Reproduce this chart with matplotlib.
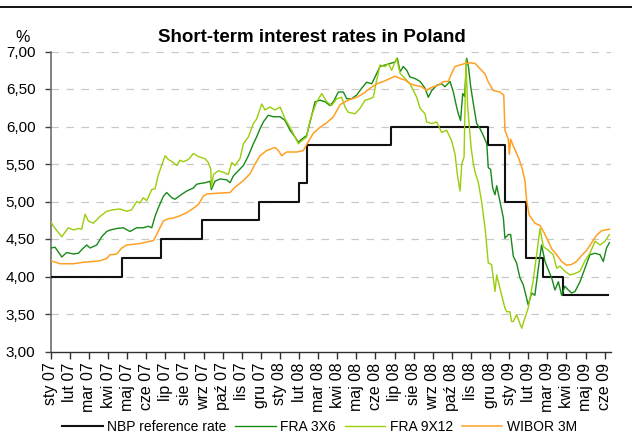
import matplotlib
matplotlib.use("Agg")
import matplotlib.pyplot as plt
from matplotlib.lines import Line2D
from matplotlib import font_manager

# ---------------- data (x = month index, 0 = Jan 2007) ----------------
month_labels = ["sty 07", "lut 07", "mar 07", "kwi 07", "maj 07", "cze 07",
                "lip 07", "sie 07", "wrz 07", "paź 07", "lis 07", "gru 07",
                "sty 08", "lut 08", "mar 08", "kwi 08", "maj 08", "cze 08",
                "lip 08", "sie 08", "wrz 08", "paź 08", "lis 08", "gru 08",
                "sty 09", "lut 09", "mar 09", "kwi 09", "maj 09", "cze 09"]

nbp_m = [0.00, 3.73, 5.80, 7.90, 10.90, 13.00, 13.43, 17.80, 22.88, 23.77,
         24.90, 25.80, 26.80, 29.20]
nbp_v = [4.00, 4.25, 4.50, 4.75, 5.00, 5.25, 5.75, 6.00, 5.75, 5.00,
         4.25, 4.00, 3.75, 3.75]

fra36_m = [0.00, 0.23, 0.58, 0.84, 1.19, 1.45, 1.71, 1.89, 2.06, 2.41,
           2.67, 2.93, 3.11, 3.46, 3.80, 4.15, 4.50, 4.85, 5.11, 5.29,
           5.46, 5.64, 5.90, 6.07, 6.34, 6.51, 6.77, 7.12, 7.47, 7.64,
           7.82, 8.08, 8.34, 8.41, 8.60, 8.86, 9.21, 9.39, 9.56, 9.82,
           10.09, 10.35, 10.61, 10.78, 10.96, 11.13, 11.39, 11.66, 12.01, 12.27,
           12.53, 12.79, 12.97, 13.14, 13.40, 13.58, 13.84, 14.10, 14.36, 14.62,
           14.80, 15.06, 15.32, 15.50, 15.76, 16.02, 16.28, 16.54, 16.81, 17.07,
           17.24, 17.50, 17.76, 18.03, 18.15, 18.29, 18.46, 18.64, 18.81, 19.07,
           19.34, 19.60, 19.77, 19.95, 20.21, 20.47, 20.64, 20.91, 21.08, 21.25,
           21.34, 21.46, 21.57, 21.67, 21.78, 21.87, 21.99, 22.13, 22.30, 22.48,
           22.65, 22.83, 22.91, 23.03, 23.14, 23.26, 23.35, 23.52, 23.70, 23.78,
           23.96, 24.08, 24.22, 24.39, 24.57, 24.74, 24.88, 25.00, 25.18, 25.35,
           25.53, 25.70, 25.88, 26.05, 26.23, 26.40, 26.58, 26.75, 26.92, 27.10,
           27.27, 27.45, 27.71, 27.97, 28.23, 28.50, 28.76, 28.93, 29.10, 29.25]
fra36_v = [4.38, 4.39, 4.26, 4.32, 4.30, 4.31, 4.38, 4.42, 4.38, 4.42,
           4.53, 4.60, 4.62, 4.64, 4.65, 4.60, 4.65, 4.65, 4.67, 4.65,
           4.80, 4.92, 5.07, 5.12, 5.05, 5.03, 5.08, 5.14, 5.18, 5.23,
           5.24, 5.25, 5.27, 5.16, 5.27, 5.30, 5.29, 5.25, 5.34, 5.41,
           5.48, 5.61, 5.77, 5.86, 5.97, 6.06, 6.15, 6.13, 6.13, 6.08,
           5.95, 5.86, 5.79, 5.83, 5.88, 6.06, 6.33, 6.35, 6.33, 6.28,
           6.33, 6.46, 6.46, 6.37, 6.37, 6.42, 6.51, 6.59, 6.57, 6.71,
           6.80, 6.82, 6.84, 6.86, 6.91, 6.73, 6.80, 6.75, 6.66, 6.64,
           6.60, 6.51, 6.39, 6.48, 6.55, 6.57, 6.53, 6.60, 6.46, 6.26,
           6.17, 6.08, 6.44, 6.40, 6.91, 6.80, 6.53, 6.30, 6.04, 5.97,
           5.88, 5.77, 5.45, 5.43, 5.18, 5.09, 5.21, 5.00, 4.78, 4.51,
           4.56, 4.56, 4.27, 4.18, 3.98, 3.89, 3.75, 3.62, 3.78, 3.75,
           4.11, 4.42, 4.20, 4.09, 3.98, 3.82, 3.93, 3.75, 3.87, 3.82,
           3.78, 3.80, 3.93, 4.11, 4.29, 4.31, 4.29, 4.20, 4.38, 4.45]

fra912_m = [0.00, 0.14, 0.58, 0.92, 1.19, 1.45, 1.62, 1.80, 1.97, 2.23,
            2.58, 2.93, 3.28, 3.63, 3.98, 4.24, 4.50, 4.67, 4.85, 5.03,
            5.29, 5.46, 5.64, 5.81, 5.99, 6.16, 6.42, 6.60, 6.77, 6.95,
            7.21, 7.47, 7.73, 8.08, 8.25, 8.38, 8.41, 8.52, 8.78, 9.04,
            9.30, 9.48, 9.65, 9.91, 10.09, 10.35, 10.61, 10.78, 11.05, 11.22,
            11.48, 11.74, 12.01, 12.27, 12.53, 12.79, 12.97, 13.14, 13.40, 13.58,
            13.75, 13.93, 14.19, 14.45, 14.71, 14.97, 15.23, 15.41, 15.58, 15.93,
            16.19, 16.46, 16.72, 16.89, 17.07, 17.24, 17.50, 17.68, 17.85, 18.03,
            18.11, 18.29, 18.55, 18.81, 18.99, 19.16, 19.34, 19.60, 19.68, 19.95,
            20.21, 20.47, 20.73, 20.99, 21.17, 21.29, 21.43, 21.52, 21.64, 21.74,
            21.83, 22.01, 22.13, 22.21, 22.39, 22.56, 22.74, 22.91, 23.08, 23.26,
            23.35, 23.52, 23.61, 23.78, 23.87, 24.04, 24.13, 24.22, 24.39, 24.66,
            24.83, 25.00, 25.27, 25.44, 25.62, 25.79, 26.05, 26.31, 26.49, 26.66,
            26.92, 27.19, 27.45, 27.71, 27.97, 28.23, 28.50, 28.76, 29.02, 29.25]
fra912_v = [4.74, 4.67, 4.53, 4.65, 4.62, 4.64, 4.63, 4.83, 4.74, 4.71,
            4.80, 4.87, 4.89, 4.90, 4.87, 4.89, 5.00, 4.98, 5.05, 5.01,
            5.16, 5.17, 5.36, 5.48, 5.61, 5.56, 5.52, 5.48, 5.55, 5.53,
            5.56, 5.64, 5.60, 5.57, 5.52, 5.43, 5.19, 5.36, 5.41, 5.39,
            5.36, 5.52, 5.48, 5.57, 5.77, 5.86, 6.04, 6.10, 6.30, 6.22,
            6.26, 6.22, 6.26, 6.10, 5.99, 5.86, 5.77, 5.81, 5.86, 6.08,
            6.21, 6.33, 6.44, 6.33, 6.28, 6.37, 6.39, 6.26, 6.19, 6.17,
            6.24, 6.35, 6.37, 6.39, 6.62, 6.82, 6.80, 6.84, 6.75, 6.86,
            6.91, 6.71, 6.64, 6.57, 6.48, 6.39, 6.24, 6.17, 6.06, 6.04,
            6.06, 5.92, 5.95, 5.81, 5.63, 5.36, 5.14, 5.50, 5.59, 6.89,
            6.26, 5.72, 5.50, 5.40, 5.25, 5.00, 4.65, 4.18, 4.16, 3.80,
            4.02, 3.84, 3.75, 3.58, 3.53, 3.53, 3.40, 3.40, 3.49, 3.31,
            3.45, 3.58, 3.96, 4.29, 4.64, 4.40, 4.35, 4.29, 4.11, 4.14,
            4.07, 4.02, 4.04, 4.07, 4.21, 4.31, 4.47, 4.42, 4.47, 4.56]

wibor_m = [0.00, 0.49, 1.19, 1.71, 2.23, 2.58, 2.93, 3.11, 3.46, 3.72,
           3.98, 4.33, 4.68, 5.03, 5.38, 5.55, 5.72, 5.90, 6.16, 6.42,
           6.77, 7.12, 7.47, 7.73, 7.99, 8.17, 8.69, 9.39, 9.65, 10.09,
           10.44, 10.70, 10.96, 11.31, 11.74, 11.92, 12.09, 12.35, 12.88, 13.23,
           13.40, 13.75, 14.10, 14.45, 14.80, 15.15, 15.41, 15.67, 16.02, 16.37,
           16.72, 17.07, 17.42, 17.76, 18.03, 18.29, 18.55, 18.81, 19.07, 19.42,
           19.68, 19.86, 20.03, 20.30, 20.56, 20.82, 20.99, 21.17, 21.43, 21.69,
           21.95, 22.22, 22.48, 22.74, 22.90, 23.17, 23.52, 23.72, 23.78, 23.96,
           24.01, 24.08, 24.22, 24.48, 24.66, 24.83, 24.92, 25.05, 25.35, 25.62,
           25.88, 26.23, 26.49, 26.75, 27.01, 27.27, 27.53, 27.80, 28.06, 28.32,
           28.58, 28.84, 29.25]
wibor_v = [4.21, 4.17, 4.17, 4.19, 4.20, 4.21, 4.24, 4.29, 4.30, 4.38,
           4.42, 4.43, 4.44, 4.46, 4.48, 4.56, 4.65, 4.74, 4.77, 4.78,
           4.81, 4.85, 4.91, 4.96, 5.07, 5.10, 5.11, 5.12, 5.19, 5.28,
           5.37, 5.50, 5.61, 5.68, 5.72, 5.68, 5.61, 5.66, 5.66, 5.68,
           5.76, 5.91, 5.99, 6.05, 6.13, 6.29, 6.33, 6.36, 6.39, 6.44,
           6.51, 6.57, 6.60, 6.64, 6.67, 6.64, 6.62, 6.57, 6.55, 6.53,
           6.48, 6.51, 6.53, 6.55, 6.60, 6.60, 6.71, 6.80, 6.82, 6.84,
           6.85, 6.84, 6.77, 6.70, 6.60, 6.48, 6.46, 6.42, 5.95, 5.83,
           5.63, 5.83, 5.74, 5.59, 5.46, 5.28, 5.01, 4.82, 4.71, 4.68,
           4.56, 4.37, 4.29, 4.20, 4.15, 4.16, 4.20, 4.28, 4.35, 4.45,
           4.55, 4.61, 4.63]

yticks = [3.0, 3.5, 4.0, 4.5, 5.0, 5.5, 6.0, 6.5, 7.0]

# ---------------- fonts ----------------
available = {f.name for f in font_manager.fontManager.ttflist}
base_font = "Liberation Sans" if "Liberation Sans" in available else "DejaVu Sans"
plt.rcParams["font.family"] = [base_font, "DejaVu Sans"]
plt.rcParams["lines.scale_dashes"] = False

W, H = 632, 445
fig = plt.figure(figsize=(W / 100, H / 100), dpi=100)
fig.patch.set_facecolor("white")

x0, x1 = 50.7, 611.3
y_top, y_bot = 51.5, 351.5
ax = fig.add_axes([x0 / W, 1 - y_bot / H, (x1 - x0) / W, (y_bot - y_top) / H])
ax.set_xlim(0, 29.35)
ax.set_ylim(3, 7)

# gridlines
for v in yticks[1:]:
    ax.axhline(v, color="#c8c8c8", lw=0.9, dashes=(5.4, 5.4), zorder=0)

ax.plot(nbp_m, nbp_v, drawstyle="steps-post", color="#111111", lw=1.5,
        label="NBP reference rate", zorder=3)
ax.plot(fra36_m, fra36_v, color="#178a17", lw=1.0, label="FRA 3X6", zorder=4)
ax.plot(fra912_m, fra912_v, color="#9acd0a", lw=1.0, label="FRA 9X12", zorder=5)
ax.plot(wibor_m, wibor_v, color="#ffa022", lw=1.1, label="WIBOR 3M", zorder=6)

for s in ["top", "right"]:
    ax.spines[s].set_visible(False)
ax.spines["left"].set_color("#606060")
ax.spines["left"].set_linewidth(1.1)
ax.spines["bottom"].set_color("#303030")
ax.spines["bottom"].set_linewidth(1.0)

ax.set_yticks(yticks)
ax.set_yticklabels([f"{v:.2f}".replace(".", ",") for v in yticks])
ax.tick_params(axis="y", direction="out", length=4, width=1, colors="#404040",
               labelcolor="black", labelsize=11, pad=7)

ax.set_xticks(range(len(month_labels)))
ax.set_xticklabels(month_labels)
ax.tick_params(axis="x", direction="out", length=5, width=1, colors="#303030",
               labelcolor="black", labelsize=11.5, labelrotation=90, pad=3)

# title and unit
fig.text(311.5 / W, 1 - 42 / H, "Short-term interest rates in Poland",
         ha="center", va="baseline", fontsize=13.5, fontweight="bold")
fig.text(15 / W, 1 - 42 / H, "%", ha="left", va="baseline", fontsize=11.5)

# top border line
fig.add_artist(Line2D([0, 1], [1 - 7 / H, 1 - 7 / H], transform=fig.transFigure,
                      color="black", lw=1.3))

leg = fig.legend(loc="center", bbox_to_anchor=(319.6 / W, 1 - 427 / H), ncol=4,
                 frameon=False, prop={"size": 10},
                 handlelength=2.9, handletextpad=0.34, columnspacing=0.62,
                 borderpad=0, borderaxespad=0)

fig.savefig("out.png", dpi=100, facecolor="white")
